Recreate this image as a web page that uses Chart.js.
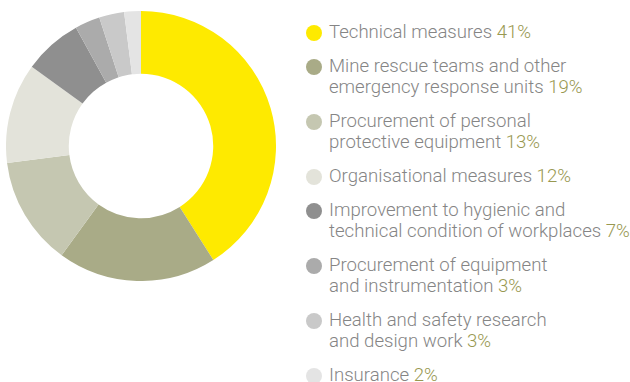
<!DOCTYPE html>
<html lang="en">
<head>
<meta charset="UTF-8">
<title>Occupational safety expenditure</title>
<script src="https://cdn.jsdelivr.net/npm/chart.js"></script>
<style>
    html, body {
        margin: 0;
        padding: 0;
        background: #ffffff;
    }
    body {
        width: 630px;
        height: 382px;
        position: relative;
        overflow: hidden;
        font-family: Roboto, "Liberation Sans", sans-serif;
    }
    .chart-box {
        position: absolute;
        left: 6px;
        top: 11px;
        width: 270px;
        height: 270px;
    }
    #legend {
        position: absolute;
        left: 305px;
        top: 22px;
        margin: 0;
        padding: 0;
        list-style: none;
    }
    #legend li {
        position: relative;
        padding-left: 24px;
        margin-bottom: 13px;
        font-size: 18.6px;
        font-weight: 300;
        line-height: 21px;
        color: #858585;
        white-space: nowrap;
    }
    #legend .dot {
        position: absolute;
        left: 1px;
        top: 2.5px;
        width: 16px;
        height: 16px;
        border-radius: 50%;
    }
    #legend .pct {
        color: #989850;
    }
</style>
</head>
<body>
    <div class="chart-box"><canvas id="donut"></canvas></div>
    <ul id="legend"></ul>

    <script>
        const labels = [
            ["Technical measures"],
            ["Mine rescue teams and other", "emergency response units"],
            ["Procurement of personal", "protective equipment"],
            ["Organisational measures"],
            ["Improvement to hygienic and", "technical condition of workplaces"],
            ["Procurement of equipment", "and instrumentation"],
            ["Health and safety research", "and design work"],
            ["Insurance"]
        ];
        const shares = [41, 19, 13, 12, 7, 3, 3, 2];
        const colors = ["#feea00", "#a9ab87", "#c5c7b1", "#e3e3da", "#8f8f8f", "#ababab", "#c9c9c9", "#e4e4e4"];

        // legend built from the same arrays
        const legend = document.getElementById("legend");
        labels.forEach((lines, i) => {
            const li = document.createElement("li");
            const dot = document.createElement("span");
            dot.className = "dot";
            dot.style.background = colors[i];
            li.appendChild(dot);
            lines.forEach((line, j) => {
                if (j > 0) li.appendChild(document.createElement("br"));
                li.appendChild(document.createTextNode(line));
            });
            const pct = document.createElement("span");
            pct.className = "pct";
            pct.textContent = " " + shares[i] + "%";
            li.appendChild(pct);
            legend.appendChild(li);
        });

        new Chart(document.getElementById("donut"), {
            type: "doughnut",
            data: {
                labels: labels.map(l => l.join(" ")),
                datasets: [{
                    data: shares,
                    backgroundColor: colors,
                    borderWidth: 0
                }]
            },
            options: {
                responsive: true,
                maintainAspectRatio: false,
                animation: false,
                cutout: "53.5%",
                plugins: {
                    legend: { display: false },
                    tooltip: { enabled: false }
                }
            }
        });
    </script>
</body>
</html>
